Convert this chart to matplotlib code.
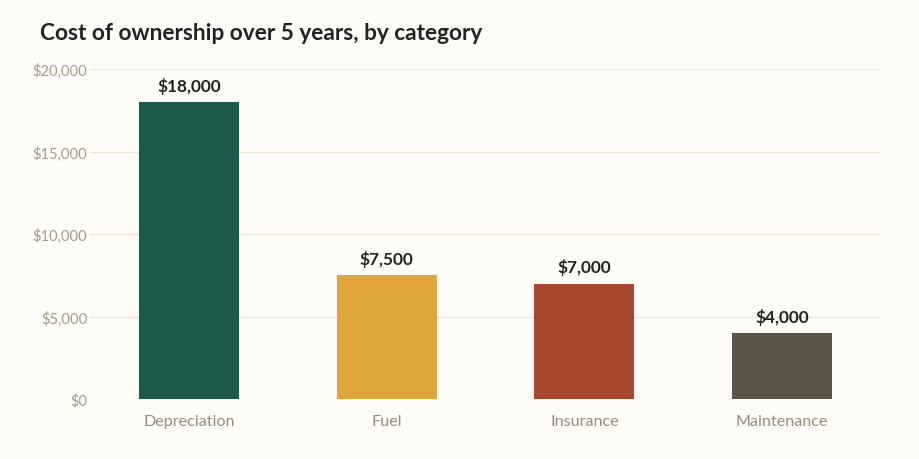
import matplotlib
matplotlib.use("Agg")
import matplotlib.pyplot as plt
from matplotlib.ticker import FuncFormatter

categories = ["Depreciation", "Fuel", "Insurance", "Maintenance"]
values = [18000, 7500, 7000, 4000]
colors = ["#1d5a4a", "#e0a53a", "#a8472f", "#5c5447"]
yticks = [0, 5000, 10000, 15000, 20000]

plt.rcParams['font.family'] = ['Lato', 'DejaVu Sans']

bg = "#fefcf7"
fig = plt.figure(figsize=(9.2, 4.6), dpi=100, facecolor=bg)
ax = fig.add_axes([90/920, 60/460, 791/920, 330/460], facecolor=bg)

x = range(len(categories))
ax.bar(x, values, width=0.505, color=colors, zorder=3)
ax.set_xlim(-0.5, len(categories) - 0.5)
ax.set_ylim(0, 20000)
ax.set_yticks(yticks)
ax.yaxis.set_major_formatter(FuncFormatter(lambda v, p: f"${v:,.0f}"))
ax.set_xticks(list(x))
ax.set_xticklabels(categories)
ax.grid(axis="y", color="#ece5d6", linewidth=1, zorder=0)
for s in ax.spines.values():
    s.set_visible(False)
ax.tick_params(axis="y", length=0, labelsize=10.6, colors="#a39a8b", pad=2)
ax.tick_params(axis="x", length=0, labelsize=11.6, colors="#968c7d", pad=11)

for xi, v in zip(x, values):
    ax.annotate(f"${v:,.0f}", (xi, v), xytext=(0, 6), textcoords="offset points",
                ha="center", va="bottom", fontsize=12.4, fontweight="bold", color="#222222")

fig.text(40/920, 1 - 34/460, "Cost of ownership over 5 years, by category",
         ha="left", va="center", fontsize=16.3, fontweight="bold", color="#222222")

fig.savefig("out.png", dpi=100, facecolor=bg)
